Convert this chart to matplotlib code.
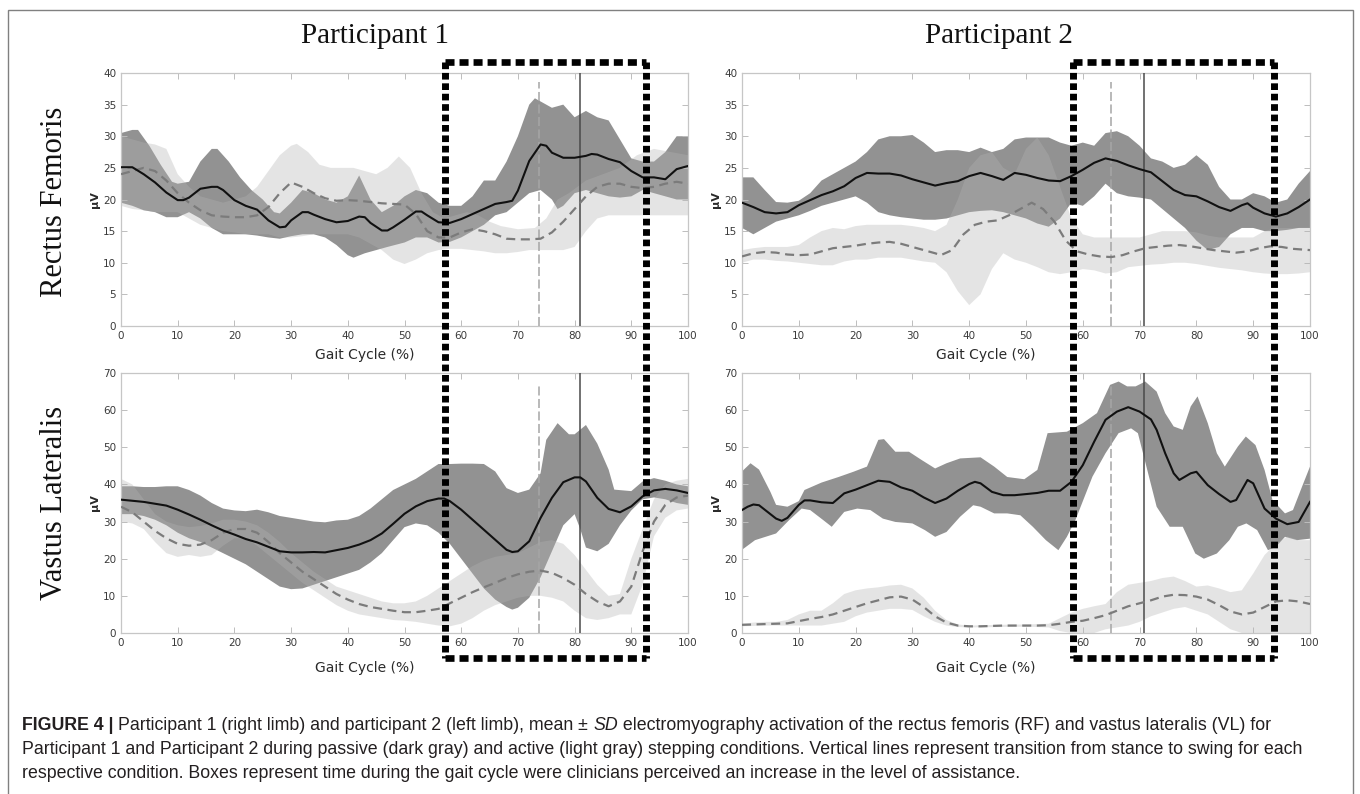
import numpy as np
import matplotlib
matplotlib.use("Agg")
import matplotlib.pyplot as plt
import matplotlib.transforms as mtrans
from matplotlib import font_manager
from matplotlib.lines import Line2D
from matplotlib.patches import Rectangle

plt.rcParams['lines.scale_dashes'] = False

# ---------------- data ----------------
X2 = list(range(0, 101, 2))

# Rectus femoris, participant 1
rf1_pm_x = [0,2,4,6,8,10,11,12,14,16,17,18,20,22,24,26,28,29,30,32,33,34,36,38,40,42,43,44,46,47,48,50,52,53,54,56,58,60,62,64,66,68,69,70,72,74,75,76,78,80,82,83,84,86,88,90,92,94,96,98,100]
rf1_pm_y = [25.1,25.1,24.0,22.7,21.1,19.9,19.9,20.3,21.7,22.0,22.0,21.5,19.9,19.0,18.4,16.7,15.6,15.7,16.7,18.0,18.0,17.6,16.9,16.4,16.6,17.3,17.2,16.3,15.1,15.1,15.6,16.8,18.1,18.1,17.5,16.4,16.3,16.9,17.7,18.5,19.3,19.6,19.8,21.4,26.1,28.7,28.5,27.4,26.6,26.6,26.9,27.2,27.1,26.4,25.9,24.5,23.5,23.5,23.2,24.8,25.3]
rf1_pu_x = [0,2,3,5,7,9,10,12,14,16,17,19,21,23,25,27,28,30,32,34,36,38,40,42,44,46,48,50,52,54,56,58,60,62,64,66,68,70,72,73,75,76,78,80,82,84,86,88,90,92,94,96,98,100]
rf1_pu_y = [30.5,31,31,28.5,25.5,22.8,22.5,22.8,26,28,28,26,23.5,21.5,20,18,17.8,19.5,21.5,21,20,19.5,20.5,23.8,20,18,19,20.5,21.5,21,19.5,19,19,20.5,23,23,26,30,35,36,35,34.5,35,33,34,33,32.5,29.5,26.5,26,26,27.5,30,30]
rf1_pl_x = [0,2,4,6,8,10,12,14,16,18,20,22,24,26,28,30,32,34,36,38,40,41,43,45,47,50,52,54,56,58,60,62,64,66,68,70,72,74,76,77,78,80,82,84,86,88,90,92,94,96,98,100]
rf1_pl_y = [19.5,19,18.3,18,17.2,17.2,18,17,15.5,14.5,14.5,14.5,14.3,14,13.8,14.2,14.5,14.5,14,12.8,11.2,10.8,11.5,12,12.5,13.2,14,14,13.2,13.3,14,15,16,17.5,18,19.5,21,21.5,20,18.5,19,21,21.5,21,20.5,20.3,20.5,21.5,21,20.5,20,20]
rf1_am_y = [24,24.5,25,24.5,23,21,19.5,18.3,17.5,17.3,17.2,17.2,17.5,18.8,21,22.7,22,21,20.2,19.8,19.9,19.8,19.6,19.4,19.3,19.2,17.7,15,14,14,14.8,15.3,15,14.5,13.8,13.7,13.7,13.8,14.8,16.5,18.5,20.5,22,22.5,22.5,22,21.8,22,22.5,22.8,22.5]
rf1_au_x = [0,2,4,6,8,10,12,14,16,18,20,22,24,26,28,30,31,33,35,37,39,41,43,45,47,49,51,53,55,57,59,61,63,65,67,70,73,75,77,79,82,85,88,91,94,97,100]
rf1_au_y = [30,29.5,29,28.7,28,24,22,20.5,20,19.5,20,20.5,22,24.5,27,28.5,28.8,27.5,25.5,25,25,25,24.5,24,25,26.8,25,21,18,17,17.5,18,17.5,16.5,15.8,15.3,15.5,17,20,21,23,24,25,27,28,27.5,27]
rf1_al_y = [19,18.5,18.3,18,18,18,17,16,15.5,15,14.8,14.5,14.5,14.5,14,14,14.2,14.5,14.5,14.5,14.5,14,13,12,10.5,9.8,10.5,11.5,12,12.2,12.2,12,11.8,11.5,11.5,11.7,12,12,12,12,12.5,15,17,17.5,17.5,17.5,17.5,17.5,17.5,17.5,17.5]

# Rectus femoris, participant 2
rf2_pm_x = list(range(0, 89, 2)) + [89] + list(range(90, 101, 2))
rf2_pm_y = [19.5,18.8,18.0,17.8,18.0,19.1,19.9,20.7,21.3,22.1,23.4,24.2,24.1,24.1,23.8,23.2,22.7,22.2,22.6,22.9,23.7,24.2,23.7,23.1,24.2,23.9,23.4,23.0,22.9,23.7,24.7,25.8,26.5,26.1,25.4,24.8,24.3,22.9,21.5,20.7,20.5,19.7,18.8,18.2,19.1,19.4,18.7,17.8,17.3,17.8,18.8,20.0]
rf2_pu_y = [23.5,23.5,21.5,19.6,19.5,19.8,21,23,24,25,26,27.5,29.5,30,30,30.2,29,27.5,27.8,27.8,27.5,28.2,27.5,28,29.5,29.8,29.8,29.8,29,28.5,29,28.5,30.5,30.8,30,28.5,26.5,26,25,25.5,27,25.5,22,20,20,21,20.5,19.5,20,22.5,24.5]
rf2_pl_y = [15.5,14.5,15.5,16.5,17,17.5,18.2,19,19.5,20,20.5,19.5,18,17.5,17.2,17,16.8,16.8,17,17.5,18,18.2,18.3,18,17.5,17,16.2,15.7,17,19.5,19,20.5,22.5,21,20.5,20.3,20,18.5,17,15.5,13.5,12,12.5,14.5,15.5,15.5,15,15,15.2,15.5,15.5]
rf2_am_x = list(range(0, 35, 2)) + list(range(35, 98, 2)) + [100]
rf2_am_y = [11,11.5,11.7,11.6,11.3,11.2,11.3,11.8,12.3,12.5,12.7,13,13.2,13.3,13,12.5,12,11.5,11.2,12,14.5,16,16.5,16.7,17.5,18.5,19.5,18.5,16.5,13.5,11.8,11.3,11,10.9,11.2,11.8,12.3,12.5,12.7,12.8,12.6,12.3,12,11.8,11.6,11.8,12.3,12.6,12.5,12.2,12]
rf2_au_y = [12,12.3,12.5,12.5,12.5,12.8,14,15,15.5,15.3,15.8,16,16,16,16,15.8,15.5,15,16,20,25,27,27.5,25,24,28,29.8,27,22,17,14.5,14,14,14,14,14,14.5,15,15,15,14.8,14.3,14,14,14,14,15,15.5,15.5,15.5,15.5]
rf2_al_y = [10,10.5,10.5,10.3,10.2,10,9.8,9.6,9.6,10.2,10.5,10.5,10.8,10.8,10.8,10.5,10.2,10,8.5,5.5,3.3,5,9,11.5,10.5,10,9.3,8.5,8.2,8.5,9,8.8,8.3,8.5,9.3,9.5,9.7,9.8,10,10,9.8,9.5,9.2,9,8.8,8.5,8.3,8.2,8.2,8.3,8.5]

# Vastus lateralis, participant 1
vl1_pm_x = list(range(0, 57, 2)) + [57] + list(range(58, 69, 2)) + [69] + list(range(70, 81, 2)) + [81] + list(range(82, 101, 2))
vl1_pm_y = [35.9,35.6,35.3,34.8,34.3,33.2,31.9,30.5,29.0,27.6,26.5,25.3,24.4,23.2,22.0,21.7,21.7,21.8,21.7,22.3,22.9,23.8,25.0,26.8,29.4,32.1,34.1,35.5,36.2,36.2,35.5,33.2,30.5,27.8,25.1,22.4,21.8,22.0,24.7,31.0,36.4,40.6,41.9,41.9,40.8,36.4,33.4,32.5,34.1,36.8,38.4,38.8,38.4,37.7]
vl1_pu_x = list(range(0, 71, 2)) + [72,74,75,77,79,80,82,84,86,87,90,92,94,96,98,100]
vl1_pu_y = [39.5,39.5,39.3,39.3,39.5,39.5,38.5,37,35,33.5,33,32.8,33.2,32.5,31.5,31,30.5,30,29.8,30.3,30.5,31.5,33.5,36,38.5,40,41.5,43.5,45.5,45.5,45.6,45.6,45.5,43.5,39,37.7,38.6,43,52,56.5,53.5,53.5,56,51,44,38.6,38.2,40.8,41.7,41,40,39.5]
vl1_pl_x = list(range(0, 69, 2)) + [69] + list(range(70, 81, 2)) + [81] + list(range(82, 101, 2))
vl1_pl_y = [32,32,31.5,30.5,29,27,25.5,24.5,23,21.5,20,18.5,16.5,14.5,12.5,11.8,12,13,14,15,16,17,19,21.5,25,28.5,29.5,29,27,24,20,16,12,9,7,6.3,6.8,9.5,15,22,29,32,28,23,22,24,29,33,36,36.5,36,35,34.5]
vl1_am_y = [34,32.5,30,27.5,25.5,24,23.5,23.8,25,27,28,28,27,24.5,21.5,19,16.5,14.5,12.5,10.5,9,7.8,7,6.5,6,5.6,5.6,6,6.5,8,9.5,11,12.3,13.5,14.8,15.8,16.5,16.8,16.2,14.8,13,10.5,8.5,7.2,8.5,12.5,22,30,34.5,36.5,37]
vl1_au_y = [41.5,40,36,32,30,29,28.5,28.8,29.5,30.5,30.5,30,29,27,24.5,21.5,19,16.5,14.5,12.5,11.5,10.5,9.5,8.5,8,8,8.5,10,12,14,16,18,19.5,20.5,21,21.5,23,24.5,25,24,21,17,13,10,10.5,20,28,36,40,41,41.5]
vl1_al_y = [30,29.5,28,24.5,21.5,20.5,21,20.5,21,23.5,25.5,25.5,23.5,21,18.5,16,13.5,11.5,9.5,7.5,6,5,4.5,4,3.5,3.3,3,2.5,2,1.8,2.5,4,6,7.5,8.5,9.5,10,10,9.5,8.5,6,4,3.5,4,5,5,13,26,31,33,33.5]

# Vastus lateralis, participant 2
vl2_pm_x = [0,1,2,3,4,6,7,8,10,11,12,14,16,18,20,22,24,26,28,30,32,34,36,38,40,41,42,44,46,48,50,52,54,56,58,60,62,64,66,68,70,72,73,74.5,76,77,78,79,80,82,84,86,87,88,89,90,92,94,96,98,100]
vl2_pm_y = [33.1,34.0,34.6,34.4,33.2,30.8,30.2,31,34.5,35.7,35.7,35.2,35.0,37.6,38.6,39.8,41.0,40.7,39.2,38.3,36.5,35.0,36.2,38.3,40.1,40.7,40.3,38.0,37.1,37.1,37.4,37.7,38.3,38.3,40.7,45.2,51.5,57.4,59.6,60.8,59.6,57.5,54.7,48.4,43,41.2,42.1,43.0,43.4,39.8,37.4,35.3,35.8,38.5,41.2,40.3,33.5,30.8,29.3,29.9,35.3]
vl2_pu_x = [0,1.5,3,5,6,8,10,11,14,17,19.6,22,24,25,27,29.4,31.6,34,36,38.4,42,44.4,46.7,49.7,52,53.8,57.2,60,62.5,64.8,66.3,67.8,69.3,71,73,74.5,76,77.6,79,80.2,82,83.6,85,87.3,88.7,90.4,92,93.4,95.6,97,98.6,100]
vl2_pu_y = [43.5,45.7,44,38,34.5,34,35.5,38.5,40.5,42,43.4,44.8,52,52.2,48.8,48.8,46.6,44.3,45.7,47,47.3,44.8,42,41.4,43.9,53.8,54.2,56.5,59.2,66.8,67.7,66.4,66.4,67.7,65,59.2,55.6,54.7,61,63.7,56.5,48.4,44.8,50.2,52.9,50.6,43.9,35.8,32.2,33.1,39.4,44.8]
vl2_pl_x = [0,2.3,6,8.3,10.5,12,14.3,15.8,18,20.3,22.6,24.8,27,30,32.2,34,36,38.4,40.7,42,44.4,46.7,49,51.2,53.5,55.7,57.2,58.7,61.7,64,66.3,68.5,69.7,71.5,73,75.3,77.6,79.8,81.3,83.6,85.8,87.3,88.8,90.7,92.6,94,95.6,97.7,100]
vl2_pl_y = [22.4,25,26.8,30.4,33.5,33.1,30.4,28.6,32.6,33.5,33.1,30.8,29.9,29.5,27.7,25.9,27.2,31.3,34.4,34,32.2,32.2,31.7,28.6,25,22.3,25.9,30.4,42.1,48.4,53.8,55.1,53.8,43,34,28.6,28.6,21.4,20,21.4,25,28.6,29.5,27.7,22.3,23.2,25.9,25,25.4]
vl2_am_y = [2.2,2.3,2.4,2.5,2.6,3.2,3.8,4.3,5,6,7,8,8.8,9.6,9.8,9,7,4.5,2.8,2,1.8,1.8,1.9,2,2,2,2,2.1,2.5,3,3.3,4,4.8,6,7.2,8,8.8,9.8,10.3,10.2,9.8,9,7.5,5.8,5,5.5,7,8.5,8.8,8.5,7.8]
vl2_a_x = list(range(0, 41, 2)) + [45, 50, 54] + list(range(56, 101, 2))
vl2_au_y = [2.5,2.8,3,3,3.5,5,6,6,8,10.5,11.5,12,12.3,12.8,13,12,9.5,6,3.5,2.3,2,2.2,2.3,2.5,4,5.5,6.5,7.2,7.8,11,13,13.5,14,14.8,15.2,14,12.5,12.8,12,11,11.5,16,21,24,26,25,25]
vl2_al_y = [1.8,1.9,2,2,2,2,2,2,2.5,3,4.5,5.5,6,6.5,6.5,6.2,4.5,3,2,1.6,1.5,1.6,1.7,1.5,0.5,0,0,0,1,1.5,2,3,4.5,5.5,6.5,7,6,5,3,1,0,0,0,0,0,0,0]

# stance-to-swing transition (% gait cycle): active (dashed), passive (solid)
trans_active = {1: 73.7, 2: 64.9}
trans_passive = {1: 80.9, 2: 70.8}
# boxes: period with increased assistance (% gait cycle)
assist_box = {1: (57.2, 92.6), 2: (58.3, 93.7)}

participants = ["Participant 1", "Participant 2"]
muscles = ["Rectus Femoris", "Vastus Lateralis"]
caption = [
    [("FIGURE 4 | ", "bold", "normal"),
     ("Participant 1 (right limb) and participant 2 (left limb), mean \u00b1 ", "normal", "normal"),
     ("SD", "normal", "italic"),
     (" electromyography activation of the rectus femoris (RF) and vastus lateralis (VL) for", "normal", "normal")],
    [("Participant 1 and Participant 2 during passive (dark gray) and active (light gray) stepping conditions. "
      "Vertical lines represent transition from stance to swing for each", "normal", "normal")],
    [("respective condition. Boxes represent time during the gait cycle were clinicians perceived an "
      "increase in the level of assistance.", "normal", "normal")],
]

# ---------------- figure ----------------
W, H = 1360, 794
fig = plt.figure(figsize=(W / 100, H / 100), dpi=100)


def fx(px):
    return px / W


def fy(py):
    return 1 - py / H


names = {f.name for f in font_manager.fontManager.ttflist}
cap_font = 'Liberation Sans Narrow' if 'Liberation Sans Narrow' in names else 'Liberation Sans'
cap_fs = 15.5 if cap_font == 'Liberation Sans Narrow' else 12.8

DARK = '#929292'
LIGHT = '#b4b4b4'

# outer frame
fig.add_artist(Rectangle((fx(8), fy(800)), fx(1353) - fx(8), fy(10) - fy(800),
                         transform=fig.transFigure, fill=False, ec='#808080', lw=1.0))

col_px = [(121, 688), (742, 1310)]
row_px = [(73, 326, 40, 5, 38.5, 22), (373, 633, 70, 10, 67.3, 28)]

panels = {
    (0, 0): dict(pu=(rf1_pu_x, rf1_pu_y), pl=(rf1_pl_x, rf1_pl_y), pm=(rf1_pm_x, rf1_pm_y),
                 au=(rf1_au_x, rf1_au_y), al=(X2, rf1_al_y), am=(X2, rf1_am_y)),
    (0, 1): dict(pu=(X2, rf2_pu_y), pl=(X2, rf2_pl_y), pm=(rf2_pm_x, rf2_pm_y),
                 au=(X2, rf2_au_y), al=(X2, rf2_al_y), am=(rf2_am_x, rf2_am_y)),
    (1, 0): dict(pu=(vl1_pu_x, vl1_pu_y), pl=(vl1_pl_x, vl1_pl_y), pm=(vl1_pm_x, vl1_pm_y),
                 au=(X2, vl1_au_y), al=(X2, vl1_al_y), am=(X2, vl1_am_y)),
    (1, 1): dict(pu=(vl2_pu_x, vl2_pu_y), pl=(vl2_pl_x, vl2_pl_y), pm=(vl2_pm_x, vl2_pm_y),
                 au=(vl2_a_x, vl2_au_y), al=(vl2_a_x, vl2_al_y), am=(X2, vl2_am_y)),
}


def band(ax, up, lo, **kw):
    xs = list(up[0]) + list(lo[0])[::-1]
    ys = list(up[1]) + list(lo[1])[::-1]
    ax.fill(xs, ys, lw=0, **kw)


axes = {}
for (r, c), d in panels.items():
    x0, x1 = col_px[c]
    top, bot, ymax, ystep, dash_top, xl_off = row_px[r]
    ax = fig.add_axes([fx(x0), fy(bot), fx(x1) - fx(x0), fy(top) - fy(bot)])
    axes[(r, c)] = ax
    band(ax, d['pu'], d['pl'], color=DARK, zorder=1)
    band(ax, d['au'], d['al'], color=LIGHT, alpha=0.35, zorder=2)
    ax.plot(*d['am'], color='#7b7b7b', lw=1.6, dashes=(6.5, 4), zorder=4)
    ax.plot(*d['pm'], color='#111111', lw=1.5, zorder=5)
    ax.plot([trans_active[c + 1]] * 2, [0, dash_top], color='#a6a6a6', lw=1.1,
            dashes=(6.5, 2.5), zorder=3)
    ax.axvline(trans_passive[c + 1], color='#4a4a4a', lw=1.1, zorder=3)

    ax.set_xlim(0, 100)
    ax.set_ylim(0, ymax)
    ax.set_xticks(range(0, 101, 10))
    ax.set_yticks(range(0, ymax + 1, ystep))
    ax.tick_params(direction='in', length=4, width=0.7, color='#bdbdbd', labelcolor='#3a3a3a',
                   labelsize=7.5, top=True, right=True, pad=3.5)
    for s in ax.spines.values():
        s.set_color('#c6c6c6')
        s.set_linewidth(0.9)
    ax.set_xlabel('Gait Cycle (%)', fontsize=10, color='#2a2a2a')
    ax.xaxis.set_label_coords(0.43, -xl_off / (bot - top))
    ax.set_ylabel('\u03bcV', fontsize=8, fontweight='bold', color='#2a2a2a')
    ax.yaxis.set_label_coords(-21 / (x1 - x0), 0.5)

# titles and muscle labels
for c, name in enumerate(participants):
    fig.text(fx([375, 999][c]), fy(36), name, family='Liberation Serif', fontsize=21,
             ha='center', va='center', color='#111111')
for r, name in enumerate(muscles):
    fig.text(fx(55), fy([202, 503][r]), name, family='Liberation Serif', fontsize=22,
             rotation=90, ha='center', va='center', color='#111111')

# assistance boxes (x in data units, y in figure units)
for c in (0, 1):
    ax = axes[(0, c)]
    tr = mtrans.blended_transform_factory(ax.transData, fig.transFigure)
    xa, xb = assist_box[c + 1]
    yt, yb = fy(62), fy(658)
    for xv in (xa, xb):
        fig.add_artist(Line2D([xv, xv], [yt, yb], transform=tr, color='k', lw=5.0,
                              dashes=(4.8, 2.7), solid_capstyle='butt', dash_capstyle='butt', zorder=20))
    for yv in (yt, yb):
        fig.add_artist(Line2D([xa, xb], [yv, yv], transform=tr, color='k', lw=4.8,
                              dashes=(6.5, 3.6), dash_capstyle='butt', zorder=20))

# caption
renderer = fig.canvas.get_renderer()
for i, parts in enumerate(caption):
    x = fx(22)
    y = fy([725, 750, 774][i])
    for txt, weight, style in parts:
        t = fig.text(x, y, txt, family=cap_font, fontsize=cap_fs, fontweight=weight,
                     fontstyle=style, color='#231f20', va='center', ha='left')
        bb = t.get_window_extent(renderer=renderer)
        x = bb.x1 / W

fig.savefig('out.png', dpi=100)
